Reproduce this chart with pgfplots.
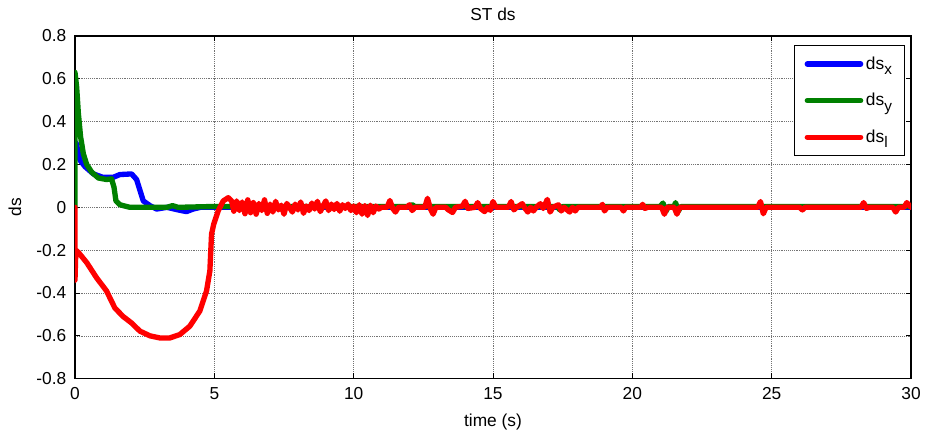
\documentclass[border=0pt]{standalone}
\usepackage{fontspec}
\setmainfont{Liberation Sans}
\usepackage{pgfplots}
\pgfplotsset{compat=1.18}
\definecolor{mblue}{rgb}{0,0,1}
\definecolor{mgreen}{rgb}{0,0.5,0}
\definecolor{mred}{rgb}{1,0,0}
\newcommand\sub[1]{\raisebox{-0.6ex}{\fontsize{11.5}{13}\selectfont #1}}
\begin{document}
\begin{tikzpicture}
\begin{axis}[
  scale only axis, width=627pt, height=257pt,
  xmin=0, xmax=30, ymin=-0.8, ymax=0.8,
  xtick={0,5,10,15,20,25,30},
  xticklabels={0,5,10,15,20,25,30},
  ytick={-0.8,-0.6,-0.4,-0.2,0,0.2,0.4,0.6,0.8},
  yticklabels={-0.8,-0.6,-0.4,-0.2,0,0.2,0.4,0.6,0.8},
  tick pos=both, tick align=inside, major tick length=4pt,
  grid=major, major grid style={densely dotted, black!55, line width=0.5pt},
  axis line style={line width=0.8pt, black},
  tick style={black, line width=0.6pt},
  font=\fontsize{13}{15}\selectfont,
  tick label style={font=\fontsize{13}{15}\selectfont},
  xticklabel style={yshift=-3pt},
  yticklabel style={xshift=-3pt},
  title={ST ds},
  title style={at={(axis description cs:0.5,1.0233)}, anchor=base, inner sep=0pt},
  xlabel={time (s)},
  xlabel style={at={(axis description cs:0.5,-0.140)}, anchor=base, inner sep=0pt},
  ylabel={ds},
  ylabel style={at={(axis description cs:-0.0718,0.5)}, anchor=center, inner sep=0pt},
  legend style={at={(axis description cs:0.993,0.974)}, anchor=north east,
    draw=black, line width=0.8pt, font=\fontsize{13}{15}\selectfont,
    inner xsep=7.5pt, inner ysep=6.5pt, row sep=12.5pt, cells={anchor=west}},
  legend image code/.code={\draw[#1, line width=4pt] (0pt,0pt) -- (40pt,0pt);},
  every axis plot/.append style={line width=4pt, line join=round, line cap=round},
]
\addplot[mblue] coordinates {
(0,0.30) (0.04,0.30) (0.18,0.22) (0.36,0.19) (0.66,0.156) (1.0,0.14) (1.37,0.14)
(1.61,0.153) (2.03,0.156) (2.21,0.13) (2.33,0.08) (2.45,0.03) (2.69,0.008)
(2.93,-0.008) (3.3,0) (3.7,-0.012) (4.0,-0.02) (4.24,-0.008) (4.5,0)
(10,0) (20,0) (30,0)
};
\addlegendentry{ds\sub{x}}
\addplot[mgreen] coordinates {
(0,0) (0,0.63) (0.06,0.56) (0.12,0.44) (0.2,0.33) (0.3,0.25) (0.42,0.2)
(0.6,0.164) (0.84,0.137) (1.13,0.13) (1.31,0.133) (1.4,0.094) (1.47,0.03)
(1.61,0.012) (1.97,0.0) (3.3,0.0) (3.5,0.008) (3.7,0.0) (5,0.004) (10,0.004)
(12,0.004) (12.1,0.012) (12.2,0.004) (17.3,0.004) (17.4,-0.012) (17.5,0.004)
(21.0,0.004) (21.1,0.02) (21.2,-0.02) (21.3,0.004) (21.5,0.004) (21.55,0.022)
(21.65,-0.018) (21.75,0.004) (30,0.004)
};
\addlegendentry{ds\sub{y}}
\addplot[mred] coordinates {
(0,0) (0,-0.34) (0.03,-0.2) (0.12,-0.21) (0.42,-0.258) (0.78,-0.33) (1.13,-0.39)
(1.43,-0.47) (1.73,-0.51) (2.03,-0.54) (2.33,-0.578) (2.69,-0.60) (3.05,-0.61)
(3.4,-0.61) (3.76,-0.594) (4.12,-0.555) (4.48,-0.484) (4.72,-0.39) (4.84,-0.297)
(4.9,-0.125) (4.98,-0.078) (5.14,-0.016) (5.32,0.03) (5.50,0.045)
(5.62,0.030) (5.70,-0.018) (5.80,0.030) (5.90,-0.015) (6.00,0.025) (6.10,-0.030)
(6.20,0.035) (6.30,-0.025) (6.40,0.022) (6.50,-0.032) (6.60,0.018) (6.70,-0.015)
(6.80,0.035) (6.90,-0.028) (7.00,0.015) (7.10,-0.022) (7.20,0.028) (7.30,-0.012)
(7.40,0.010) (7.50,-0.032) (7.60,0.018) (7.70,0.000) (7.80,-0.022) (7.90,0.015)
(8.00,-0.012) (8.10,0.025) (8.20,-0.028) (8.30,0.006) (8.40,-0.015) (8.50,0.020)
(8.60,-0.008) (8.70,0.028) (8.80,-0.020) (8.90,0.006) (9.00,0.030) (9.10,-0.015)
(9.20,0.015) (9.30,-0.010) (9.40,0.018) (9.50,-0.018) (9.60,0.012) (9.70,-0.005)
(9.80,0.015) (9.90,-0.015) (10.00,0.006) (10.10,-0.025) (10.20,0.012)
(10.30,-0.032) (10.40,0.008) (10.50,-0.038) (10.60,0.010) (10.70,-0.025)
(10.80,0.006) (10.90,-0.008) (11.00,0.000) (11.20,0.000) (11.30,0.032)
(11.40,-0.005) (11.50,-0.022) (11.60,0.000) (11.90,0.000) (12.00,0.012)
(12.10,-0.015) (12.20,0.000) (12.55,0.000) (12.65,0.042) (12.75,-0.005)
(12.85,-0.032) (12.95,0.000) (13.30,0.000) (13.40,-0.012) (13.55,-0.024)
(13.65,0.000) (13.90,0.005) (14.00,0.028) (14.10,-0.005) (14.35,0.000)
(14.45,0.022) (14.55,-0.005) (14.70,-0.020) (14.80,0.000) (14.90,-0.014)
(15.00,0.027) (15.10,0.000) (15.55,0.000) (15.65,0.027) (15.75,-0.012)
(15.85,0.000) (16.05,0.017) (16.15,-0.005) (16.25,-0.022) (16.35,0.000)
(16.45,-0.017) (16.55,0.000) (16.70,0.017) (16.80,-0.005) (16.95,0.037)
(17.05,-0.022) (17.15,0.000) (17.35,0.012) (17.45,-0.017) (17.55,0.000)
(17.75,-0.022) (17.85,0.000) (17.95,-0.017) (18.05,0.000) (18.85,0.000)
(18.93,0.014) (19.00,-0.017) (19.10,0.000) (19.60,0.000) (19.68,-0.017)
(19.76,0.000) (20.30,0.000) (20.37,0.014) (20.45,-0.005) (20.55,0.000)
(21.05,0.000) (21.15,-0.032) (21.25,0.000) (21.50,0.000) (21.60,-0.032)
(21.70,0.000) (24.50,0.000) (24.60,0.027) (24.70,-0.030) (24.80,0.000)
(26.00,0.000) (26.10,-0.012) (26.20,0.000) (28.20,0.000) (28.30,0.022)
(28.40,-0.005) (28.50,0.000) (29.35,0.000) (29.45,-0.022) (29.55,0.000)
(29.75,0.000) (29.85,0.022) (30.00,0.000)
};
\addlegendentry{ds\sub{l}}
\end{axis}
\pgfresetboundingbox
\path ([shift={(-56.25pt,-38.25pt)}]current axis.south west) rectangle ([shift={(10.5pt,27pt)}]current axis.north east);
\end{tikzpicture}
\end{document}
